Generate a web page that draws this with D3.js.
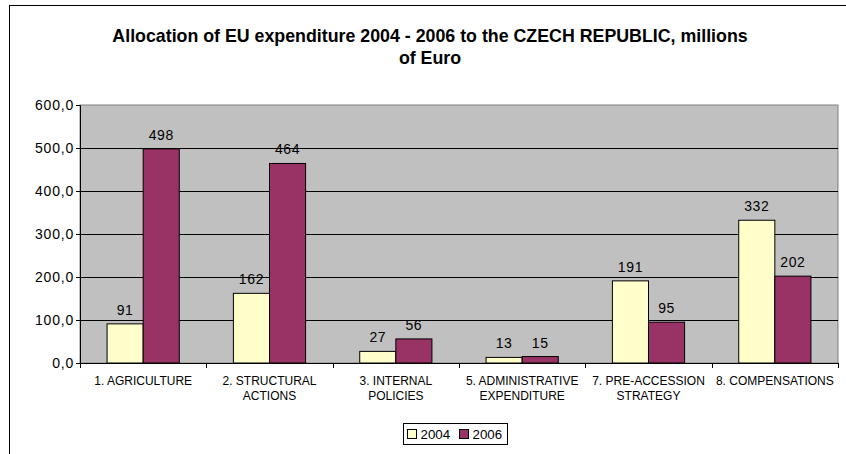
<!DOCTYPE html>
<html><head><meta charset="utf-8">
<script src="https://cdn.jsdelivr.net/npm/d3@7"></script>
<style>html,body{margin:0;padding:0;background:#fff;}svg{display:block;font-family:"Liberation Sans",Arial,sans-serif;}</style>
</head><body>
<svg id="c" width="846" height="454"></svg>
<script>
const categories = [["1. AGRICULTURE"],["2. STRUCTURAL","ACTIONS"],["3. INTERNAL","POLICIES"],["5. ADMINISTRATIVE","EXPENDITURE"],["7. PRE-ACCESSION","STRATEGY"],["8. COMPENSATIONS"]];
const seriesNames = ["2004","2006"];
const values2004 = [91,162,27,13,191,332];
const values2006 = [498,464,56,15,95,202];
const yTicks = [0,100,200,300,400,500,600];
const titleLines = ["Allocation of EU expenditure 2004 - 2006 to the CZECH REPUBLIC, millions","of Euro"];
const colors = ["#FFFFCC","#993366"];

const svg = d3.select("#c");
// outer frame
svg.append("rect").attr("x",9.5).attr("y",5.5).attr("width",900).attr("height",500)
  .attr("fill","#fff").attr("stroke","#000").attr("stroke-width",1);

const L=80,R=838,T=105,B=363;
const x = d3.scaleBand().domain(d3.range(categories.length)).range([L,R]);
const y = d3.scaleLinear().domain([0,600]).range([B,T]);
const inner = d3.scaleBand().domain([0,1]).range([0,x.bandwidth()]).paddingInner(0).paddingOuter(0.75);

svg.append("rect").attr("x",L).attr("y",T).attr("width",R-L).attr("height",B-T)
  .attr("fill","#C0C0C0").attr("stroke","#808080");

// gridlines
svg.append("g").selectAll("line").data(yTicks.filter(d=>d>0 && d<600)).join("line")
  .attr("x1",L).attr("x2",R).attr("y1",d=>Math.round(y(d))+0.5).attr("y2",d=>Math.round(y(d))+0.5)
  .attr("stroke","#000");

const yAxis = svg.append("g").attr("transform",`translate(${L},0)`)
  .call(d3.axisLeft(y).tickValues(yTicks).tickSize(4).tickPadding(2).tickFormat(d=>d3.format(".1f")(d).replace(".",",")));
yAxis.select(".domain").attr("stroke","#000");
yAxis.selectAll(".tick line").attr("stroke","#000");
yAxis.selectAll("text").attr("font-size",14).attr("letter-spacing",0.8).attr("fill","#000").attr("font-family","Liberation Sans, Arial, sans-serif");

// x axis
const xg = svg.append("g").attr("transform",`translate(0,${B})`);
xg.append("line").attr("x1",L).attr("x2",R).attr("y1",0.5).attr("y2",0.5).attr("stroke","#000");
xg.selectAll("line.t").data(d3.range(categories.length+1)).join("line").attr("class","t")
  .attr("x1",i=>Math.round(L+i*x.step())+0.5).attr("x2",i=>Math.round(L+i*x.step())+0.5)
  .attr("y1",0).attr("y2",5).attr("stroke","#000");
xg.selectAll("text").data(categories).join("text")
  .attr("text-anchor","middle").attr("font-size",12).attr("fill","#000")
  .attr("transform",(d,i)=>`translate(${x(i)+x.bandwidth()/2},21.5)`)
  .selectAll("tspan").data(d=>d).join("tspan").attr("x",0).attr("dy",(d,j)=>j?15:0).text(d=>d);

const series=[values2004,values2006];
series.forEach((vals,s)=>{
  svg.append("g").selectAll("rect").data(vals).join("rect")
    .attr("x",(d,i)=>x(i)+inner(s)).attr("width",inner.bandwidth())
    .attr("y",d=>y(d)).attr("height",d=>B-y(d))
    .attr("fill",colors[s]).attr("stroke","#000").attr("stroke-width",1);
  svg.append("g").selectAll("text").data(vals).join("text")
    .attr("x",(d,i)=>x(i)+inner(s)+inner.bandwidth()/2).attr("y",d=>y(d)-9)
    .attr("text-anchor","middle").attr("font-size",14).attr("letter-spacing",0.6).attr("fill","#000").text(d=>d);
});

// title
svg.append("text").attr("x",430).attr("y",42).attr("text-anchor","middle")
  .attr("font-size",17.8).attr("font-weight","bold")
  .selectAll("tspan").data(titleLines).join("tspan").attr("x",430).attr("dy",(d,i)=>i?22:0).text(d=>d);

// legend
const lg = svg.append("g");
lg.append("rect").attr("x",403.5).attr("y",423.5).attr("width",104).attr("height",21).attr("fill","#fff").attr("stroke","#000");
seriesNames.forEach((n,i)=>{
  const gx=407+i*52;
  lg.append("rect").attr("x",gx+0.5).attr("y",429.5).attr("width",9).attr("height",9).attr("fill",colors[i]).attr("stroke","#000");
  lg.append("text").attr("x",gx+13.5).attr("y",439).attr("font-size",13.3).text(n);
});
</script>
</body></html>
